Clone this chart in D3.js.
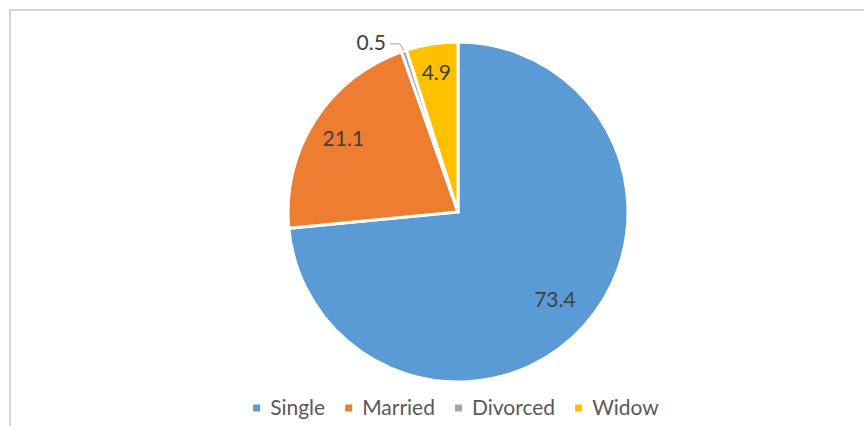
<!DOCTYPE html>
<html><head><meta charset="utf-8">
<script src="https://cdn.jsdelivr.net/npm/d3@7"></script>
<style>body{margin:0;background:#fff}svg{display:block}</style>
</head><body><svg id="c" width="864" height="426"></svg>
<script>
const categories = ["Single", "Married", "Divorced", "Widow"];
const values = [73.4, 21.1, 0.5, 4.9];
const labels = ["73.4", "21.1", "0.5", "4.9"];
const colors = ["#5B9BD5", "#ED7D31", "#A5A5A5", "#FFC000"];

const svg = d3.select("#c");
const W = 864, H = 426;
const cx = 458, cy = 212, r = 170;
const font = "Lato, 'Open Sans', sans-serif";

svg.append("rect").attr("x", 10).attr("y", 10).attr("width", W + 20).attr("height", H + 20)
  .attr("fill", "#fff").attr("stroke", "#d6d6d6").attr("stroke-width", 2);

const pie = d3.pie().sort(null).value(d => d)(values);
const arc = d3.arc().innerRadius(0).outerRadius(r);
const g = svg.append("g").attr("transform", `translate(${cx},${cy})`);

g.selectAll("path").data(pie).join("path")
  .attr("d", arc).attr("fill", (d, i) => colors[i])
  .attr("stroke", "#fff").attr("stroke-width", 3).attr("stroke-linejoin", "miter");

// labels
const labelR = [0.77, 0.8, null, 0.83];
pie.forEach((d, i) => {
  const a = (d.startAngle + d.endAngle) / 2;
  if (labelR[i] !== null) {
    const rr = r * labelR[i];
    g.append("text").attr("x", rr * Math.sin(a)).attr("y", -rr * Math.cos(a))
      .attr("text-anchor", "middle").attr("dy", "0.35em")
      .attr("font-family", font).attr("font-size", 21).attr("fill", "#404040")
      .text(labels[i]);
  } else {
    const p1 = [r * Math.sin(a), -r * Math.cos(a)];
    const p2 = [p1[0] - 4, p1[1] - 7];
    const p3 = [p2[0] - 10, p2[1]];
    g.append("polyline").attr("points", [p1, p2, p3].map(p => p.join(",")).join(" "))
      .attr("fill", "none").attr("stroke", "#a6a6a6").attr("stroke-width", 1);
    g.append("text").attr("x", p3[0] - 4).attr("y", p3[1] - 1)
      .attr("text-anchor", "end").attr("dy", "0.35em")
      .attr("font-family", font).attr("font-size", 21).attr("fill", "#404040")
      .text(labels[i]);
  }
});

// legend
const lg = svg.append("g");
const fs = 21, box = 7, gapBox = 10, gapItem = 20;
const items = categories.map((c, i) => {
  const t = lg.append("text").attr("font-family", font).attr("font-size", fs)
    .attr("fill", "#595959").text(c);
  return { t, w: t.node().getComputedTextLength(), i };
});
const total = d3.sum(items, d => box + gapBox + d.w) + gapItem * (items.length - 1);
let x = 456 - total / 2;
const ly = 408;
items.forEach(d => {
  lg.append("rect").attr("x", x).attr("y", ly - box / 2).attr("width", box).attr("height", box)
    .attr("fill", colors[d.i]);
  d.t.attr("x", x + box + gapBox).attr("y", ly).attr("dy", "0.35em");
  x += box + gapBox + d.w + gapItem;
});
</script></body></html>
